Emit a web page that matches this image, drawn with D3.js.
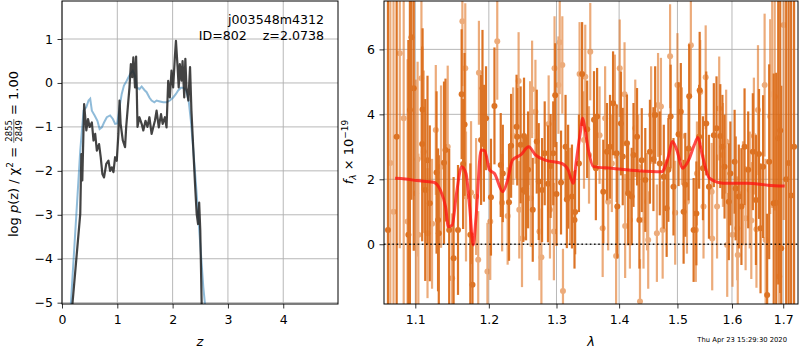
<!DOCTYPE html>
<html>
<head>
<meta charset="utf-8">
<script src="https://cdn.jsdelivr.net/npm/d3@7"></script>
<style>
  body { margin: 0; background: #fff; }
  svg { display: block; font-family: "DejaVu Sans", sans-serif; }
</style>
</head>
<body>
<div id="chart"></div>
<script>

// ---- p(z) panel data -------------------------------------------------------

var pzTicksX = [0, 1, 2, 3, 4];
var pzTicksY = [1, 0, -1, -2, -3, -4, -5];

// noisy chi2 based curve (dark line)
var pzZ = [0.15, 0.17, 0.33, 0.35, 0.367, 0.40, 0.44, 0.47, 0.50, 0.54, 0.57, 0.60, 0.63, 0.67, 0.70,
    0.73, 0.76, 0.80, 0.84, 0.87, 0.90, 0.93, 0.96, 0.99, 1.02, 1.04, 1.06, 1.10, 1.14, 1.16, 1.19,
    1.22, 1.245, 1.27, 1.29, 1.32, 1.34, 1.365, 1.40, 1.44, 1.47, 1.51, 1.545, 1.58, 1.62, 1.65, 1.68,
    1.71, 1.75, 1.79, 1.82, 1.86, 1.89, 1.92, 1.95, 1.98, 2.01, 2.04, 2.06, 2.09, 2.11, 2.13, 2.16,
    2.18, 2.21, 2.23, 2.25, 2.285, 2.315, 2.34, 2.375, 2.405, 2.435, 2.46, 2.48, 2.50, 2.525, 2.54];
var pzDark = [-5.6, -5.3, -2.98, -1.62, -2.22, -0.48, -1.08, -0.82, -1.0, -0.9, -1.31, -1.16, -1.54, -1.39, -1.69,
    -2.07, -2.15, -1.84, -1.77, -2.0, -1.92, -2.03, -1.69, -1.77, -1.16, -0.40, -0.93, -1.31, -1.46, -1.01, -0.55,
    -0.10, 0.43, 0.13, 0.58, -0.10, 0.60, -1.0, -0.78, -0.93, -1.08, -0.86, -1.0, -0.78, -1.16, -1.01, -0.86,
    -0.63, -1.01, -0.71, -0.93, -0.78, -1.01, 0.05, -0.33, 0.28, -0.10, 0.58, 0.96, 0.36, -0.10, 0.43, 0.05,
    0.50, -0.33, 0.55, -0.10, -0.40, 0.36, -0.63, -1.54, -2.30, -2.98, -3.21, -2.72, -3.36, -5.03, -5.6];

// smoothed prior curve (blue line)
var pzZSmooth = [0.14, 0.16, 0.26, 0.33, 0.39, 0.44, 0.48, 0.51, 0.54, 0.59, 0.64, 0.68, 0.72, 0.76, 0.81,
    0.87, 0.92, 0.96, 1.0, 1.04, 1.08, 1.12, 1.17, 1.23, 1.28, 1.32, 1.35, 1.40, 1.44, 1.49, 1.53, 1.58,
    1.62, 1.67, 1.71, 1.77, 1.83, 1.89, 1.95, 2.01, 2.06, 2.10, 2.15, 2.19, 2.24, 2.29, 2.33, 2.375,
    2.435, 2.495, 2.555, 2.585, 2.60];
var pzBlue = [-5.5, -5.03, -2.98, -1.54, -0.63, -0.55, -0.40, -0.36, -0.63, -0.74, -0.86, -1.05, -1.01, -0.9, -0.78,
    -0.74, -0.82, -0.93, -0.92, -0.55, -0.25, -0.06, 0.05, 0.2, 0.28, 0.17, -0.1, -0.14, -0.08, -0.16, -0.21, -0.33,
    -0.40, -0.44, -0.40, -0.42, -0.44, -0.44, -0.40, -0.33, -0.25, -0.17, -0.11, -0.11, -0.17, -0.40, -0.86, -1.54,
    -2.53, -3.59, -4.65, -5.03, -5.4];

// ---- spectrum panel data ---------------------------------------------------

var specTicksX = [1.1, 1.2, 1.3, 1.4, 1.5, 1.6, 1.7];
var specTicksY = [0, 2, 4, 6];

// first grism (dark)
var waveA = [1.065, 1.076, 1.091, 1.093, 1.095, 1.098, 1.109, 1.1095, 1.113, 1.116, 1.119, 1.128, 1.130, 1.131,
    1.138, 1.140, 1.145, 1.151, 1.157, 1.162, 1.164, 1.166, 1.174, 1.177, 1.189, 1.191, 1.193, 1.196, 1.203,
    1.208, 1.217, 1.220, 1.229, 1.232, 1.240, 1.241, 1.246, 1.250, 1.251, 1.254, 1.257, 1.264, 1.270, 1.273,
    1.278, 1.282, 1.287, 1.291, 1.295, 1.298, 1.300, 1.307, 1.314, 1.316, 1.318, 1.324, 1.328, 1.329, 1.335,
    1.340, 1.348, 1.359, 1.362, 1.364, 1.374, 1.380, 1.385, 1.390, 1.396, 1.397, 1.403, 1.406, 1.413, 1.415,
    1.421, 1.424, 1.430, 1.434, 1.438, 1.444, 1.452, 1.458, 1.461, 1.469, 1.476, 1.481, 1.484, 1.488, 1.493,
    1.502, 1.506, 1.511, 1.514, 1.520, 1.521, 1.529, 1.534, 1.539, 1.540, 1.546, 1.552, 1.557, 1.566, 1.571,
    1.578, 1.582, 1.586, 1.594, 1.597, 1.605, 1.607, 1.613, 1.618, 1.624, 1.631, 1.640, 1.646, 1.652, 1.655,
    1.660, 1.668, 1.672, 1.681, 1.686, 1.690, 1.694, 1.696, 1.706, 1.711, 1.716, 1.722];
var fluxA = [0.44, 3.31, 0.29, 4.13, 6.37, 4.8, 3.09, 4.15, 1.67, 2.59, 1.26, 2.21, 0.75, 0.34,
    2.51, 2.90, 0.44, -0.43, 0.44, 4.62, 2.47, 3.69, 0.29, -1.25, 3.21, 4.8, 3.11, 3.88, 1.45,
    4.26, 2.44, 2.18, 1.29, 3.03, 3.62, 3.31, 3.06, 1.67, 3.33, 1.72, 2.29, 1.06, 3.16, 1.93,
    1.67, 2.80, 1.86, 2.41, 2.80, 4.59, 1.55, 1.90, 3.0, 1.38, 2.08, 1.47, 0.75, 0.99, 2.49,
    5.24, 3.54, 3.83, 2.34, 3.93, 1.62, 2.85, 3.0, 4.34, 2.80, 1.16, 3.72, 2.70, 3.11, 1.57,
    1.47, 2.75, 3.31, 0.75, 2.59, 1.98, 2.85, 2.62, 3.98, 2.49, 2.08, 1.11, 2.29, 3.93, 1.77,
    3.39, 4.08, 1.0, 1.83, 2.95, 4.56, 0.44, 0.95, 3.31, 4.74, 2.34, 3.72, 1.77, 3.36, 3.57,
    3.33, 3.0, 2.39, 1.31, 2.18, 2.54, 1.72, 1.47, 1.16, 3.0, 2.29, 2.85, 1.36, 2.78, 0.49,
    2.39, -1.56, 2.54, 1.26, 1.28, 3.26, 3.50, -0.12, 2.0, 2.5, 1.5, 3.0];
var errA = [8, 8, 6, 6, 5, 5, 3, 2.5, 2.8, 2.6, 2.4, 2.5, 2.2, 2.4,
    2.5, 2.2, 2.5, 2.5, 2.0, 2.0, 2.0, 2.2, 2.2, 1.5, 2.0, 1.8, 1.8, 1.6, 1.8,
    1.8, 1.6, 1.5, 1.8, 1.6, 1.6, 1.5, 1.8, 1.6, 1.8, 1.6, 1.8, 1.6, 1.6, 1.8,
    1.6, 1.6, 1.8, 1.6, 1.6, 1.6, 1.6, 1.6, 1.6, 1.5, 1.6, 1.6, 1.5, 1.3, 1.5,
    1.6, 1.5, 1.5, 1.6, 1.5, 1.6, 1.5, 1.6, 1.6, 1.5, 1.6, 1.6, 1.5, 1.5, 1.6,
    1.5, 1.6, 1.5, 1.5, 1.6, 1.6, 1.6, 1.6, 1.5, 1.6, 1.6, 1.5, 1.6, 1.6, 1.5,
    1.6, 1.5, 1.6, 1.6, 1.6, 1.6, 1.6, 1.6, 1.6, 1.8, 1.6, 1.6, 1.6, 1.6, 1.6,
    1.6, 1.6, 1.6, 1.8, 1.6, 1.6, 1.6, 1.6, 1.8, 1.8, 1.8, 1.8, 2.0, 2.0, 2.0,
    2.2, 2.5, 3.0, 4.0, 4.0, 4.5, 5, 5, 8, 9, 9, 10];

// second grism (light)
var waveB = [1.068, 1.072, 1.080, 1.085, 1.090, 1.101, 1.103, 1.104, 1.108, 1.111, 1.116, 1.122, 1.127, 1.134,
    1.143, 1.149, 1.163, 1.167, 1.168, 1.175, 1.182, 1.185, 1.186, 1.198, 1.202, 1.212, 1.219, 1.227, 1.235,
    1.243, 1.244, 1.248, 1.260, 1.261, 1.263, 1.268, 1.274, 1.277, 1.288, 1.290, 1.296, 1.297, 1.303, 1.305,
    1.309, 1.310, 1.321, 1.336, 1.343, 1.345, 1.351, 1.353, 1.368, 1.373, 1.377, 1.382, 1.388, 1.393, 1.395,
    1.401, 1.409, 1.410, 1.418, 1.427, 1.432, 1.435, 1.441, 1.447, 1.449, 1.454, 1.464, 1.466, 1.471, 1.474,
    1.487, 1.496, 1.500, 1.508, 1.517, 1.524, 1.533, 1.535, 1.541, 1.547, 1.551, 1.562, 1.563, 1.572, 1.576,
    1.583, 1.589, 1.591, 1.601, 1.610, 1.611, 1.621, 1.626, 1.634, 1.637, 1.642, 1.647, 1.650, 1.663, 1.665,
    1.674, 1.678, 1.683, 1.692, 1.701];
var fluxB = [2.5, 1.0, 5.88, 3.88, 0.70, 1.57, 2.62, 0.29, 5.11, 2.85, 0.34, 0.63, 3.52, 2.39,
    3.0, -1.05, 6.87, 5.42, 1.47, 1.59, 1.47, -0.48, 5.28, -0.84, 0.70, 6.25, 1.28, 0.87, 3.33,
    5.03, 1.06, 0.18, 3.42, 1.42, 4.77, 4.08, 0.39, -0.40, 3.70, 1.06, 0.39, 5.42, 4.90, 6.22,
    5.52, -1.44, 1.47, 5.24, 3.21, 5.16, 2.75, 5.93, 3.36, 0.49, 3.88, 1.31, 2.49, 4.24, -0.36,
    5.42, 4.62, 0.56, 0.75, 3.57, 2.39, -1.76, 0.75, 1.31, 0.13, 3.98, 0.34, 4.29, 4.24, 0.44,
    5.79, 0.97, 4.90, 3.33, 1.31, 6.13, 0.44, 2.18, 4.69, 1.16, 5.14, 1.62, 0.18, 1.16, 4.18,
    2.75, 3.16, -0.02, 0.29, 0.49, -0.33, 1.57, 0.80, 1.67, 0.73, 3.33, 0.46, 4.13, 4.90, 0.13,
    3.93, 4.62, 4.54, -0.99, 6.75];
var errB = [7, 7, 6, 6, 5, 3.5, 3, 2.5, 2.5, 2.5, 2.0, 2.0, 2.0, 2.5,
    2.5, 2.0, 2.0, 2.0, 2.0, 2.2, 1.8, 1.5, 1.6, 1.5, 1.8, 1.8, 1.5, 1.5, 1.5,
    1.5, 1.5, 1.5, 1.6, 1.5, 1.5, 1.6, 1.5, 1.5, 1.5, 1.5, 1.5, 1.6, 1.5, 1.6,
    1.5, 1.3, 1.5, 1.6, 1.5, 1.6, 1.5, 1.5, 1.5, 1.5, 1.6, 1.5, 1.5, 1.6, 1.5,
    1.5, 1.6, 1.6, 1.5, 1.5, 1.6, 1.3, 1.5, 1.5, 1.5, 1.5, 1.5, 1.6, 1.5, 1.5,
    1.6, 1.6, 1.6, 1.5, 1.6, 1.6, 1.6, 1.6, 1.6, 1.6, 1.6, 1.5, 1.6, 1.6, 1.6,
    1.6, 1.6, 1.6, 1.6, 1.6, 1.6, 1.6, 1.6, 1.8, 1.8, 1.8, 1.8, 2.0, 2.2, 2.5,
    3.0, 3.5, 3.5, 5, 6];

// best-fit template
var modelWave = [1.074, 1.087, 1.102, 1.124, 1.133, 1.140, 1.144, 1.149, 1.155, 1.162, 1.168, 1.173, 1.178,
    1.182, 1.189, 1.194, 1.201, 1.208, 1.220, 1.227, 1.234, 1.246, 1.258, 1.268, 1.283, 1.308, 1.318, 1.326,
    1.331, 1.337, 1.341, 1.344, 1.350, 1.358, 1.387, 1.432, 1.472, 1.484, 1.491, 1.499, 1.509, 1.520, 1.530,
    1.537, 1.544, 1.558, 1.583, 1.629, 1.669, 1.703];
var modelFlux = [2.03, 2.01, 1.96, 1.91, 1.67, 1.16, 0.54, 0.59, 1.57, 2.39, 2.18, 1.16, -0.02,
    0.85, 2.9, 2.88, 2.29, 2.18, 1.62, 1.98, 2.59, 2.75, 3.0, 2.75, 2.59, 2.49, 2.29, 1.88,
    2.59, 3.42, 3.88, 3.62, 2.9, 2.39, 2.34, 2.26, 2.23, 2.70, 3.16, 2.9, 2.34, 2.59, 3.05,
    3.29, 2.80, 2.03, 1.88, 1.88, 1.82, 1.79];

var stamp = 'Thu Apr 23 15:29:30 2020';

// ---- layout ----------------------------------------------------------------

var W = 800, H = 350;
var left = {x0: 62, x1: 338, y0: 1, y1: 304};
var right = {x0: 384, x1: 798, y0: 1, y1: 304};
var gridColor = '#b0b0b0';
var tickFont = 12.5;
var labelFont = 13;

var svg = d3.select('#chart').append('svg')
    .attr('width', W)
    .attr('height', H)
    .attr('viewBox', '0 0 ' + W + ' ' + H);

var defs = svg.append('defs');
[['clipL', left], ['clipR', right]].forEach(function (c) {
    defs.append('clipPath').attr('id', c[0]).append('rect')
        .attr('x', c[1].x0).attr('y', c[1].y0)
        .attr('width', c[1].x1 - c[1].x0).attr('height', c[1].y1 - c[1].y0);
});

var zX = d3.scaleLinear().domain([0, 4.99]).range([left.x0, left.x1]);
var pY = d3.scaleLinear().domain([-5.03, 1.865]).range([left.y1, left.y0]);
var wX = d3.scaleLog().domain([1.06, 1.73]).range([right.x0, right.x1]);
var fY = d3.scaleLinear().domain([-1.84, 7.49]).range([right.y1, right.y0]);

function drawGrid(box, xs, ys, xTicks, yTicks) {
    var g = svg.append('g').attr('class', 'grid');
    g.selectAll('line.gx').data(xTicks).enter().append('line')
        .attr('x1', function (d) { return xs(d); }).attr('x2', function (d) { return xs(d); })
        .attr('y1', box.y0).attr('y2', box.y1)
        .attr('stroke', gridColor).attr('stroke-width', 0.9);
    g.selectAll('line.gy').data(yTicks).enter().append('line')
        .attr('y1', function (d) { return ys(d); }).attr('y2', function (d) { return ys(d); })
        .attr('x1', box.x0).attr('x2', box.x1)
        .attr('stroke', gridColor).attr('stroke-width', 0.9);
}

function drawAxes(box, xs, ys, xTicks, yTicks, xFmt, yFmt) {
    var ax = svg.append('g')
        .attr('transform', 'translate(0,' + box.y1 + ')')
        .call(d3.axisBottom(xs).tickValues(xTicks).tickFormat(xFmt).tickSize(4.5).tickPadding(7));
    var ay = svg.append('g')
        .attr('transform', 'translate(' + box.x0 + ',0)')
        .call(d3.axisLeft(ys).tickValues(yTicks).tickFormat(yFmt).tickSize(4.5).tickPadding(4.5));
    [ax, ay].forEach(function (a) {
        a.select('.domain').remove();
        a.selectAll('text').attr('font-size', tickFont).attr('font-family', 'DejaVu Sans').attr('fill', '#000');
        a.selectAll('line').attr('stroke', '#000').attr('stroke-width', 0.8);
    });
    svg.append('rect')
        .attr('x', box.x0).attr('y', box.y0)
        .attr('width', box.x1 - box.x0).attr('height', box.y1 - box.y0)
        .attr('fill', 'none').attr('stroke', '#000').attr('stroke-width', 1);
}

var minusFmt = function (d) { return d3.format('d')(d); };

// ---- left panel: p(z) ------------------------------------------------------

drawGrid(left, zX, pY, pzTicksX, pzTicksY);

var pzPlot = svg.append('g').attr('clip-path', 'url(#clipL)');

var blueLine = d3.line()
    .x(function (d, i) { return zX(pzZSmooth[i]); })
    .y(function (d) { return pY(d); });
pzPlot.append('path')
    .attr('d', blueLine(pzBlue))
    .attr('fill', 'none')
    .attr('stroke', '#1f77b4')
    .attr('stroke-opacity', 0.5)
    .attr('stroke-width', 2);

var darkLine = d3.line()
    .x(function (d, i) { return zX(pzZ[i]); })
    .y(function (d) { return pY(d); });
pzPlot.append('path')
    .attr('d', darkLine(pzDark))
    .attr('fill', 'none')
    .attr('stroke', '#222')
    .attr('stroke-opacity', 0.85)
    .attr('stroke-width', 2.2)
    .attr('stroke-linejoin', 'round');

drawAxes(left, zX, pY, pzTicksX, pzTicksY, minusFmt, minusFmt);

svg.append('text')
    .attr('x', 324).attr('y', 24)
    .attr('text-anchor', 'end').attr('font-size', 12.6)
    .text('j003548m4312');
svg.append('text')
    .attr('x', 324).attr('y', 39.5)
    .attr('text-anchor', 'end').attr('font-size', 12.6)
    .attr('xml:space', 'preserve')
    .text('ID=802    z=2.0738');

svg.append('text')
    .attr('x', (left.x0 + left.x1) / 2).attr('y', 346)
    .attr('text-anchor', 'middle').attr('font-size', labelFont)
    .attr('font-style', 'italic')
    .text('z');

// y label with a stacked fraction
var yl = svg.append('g').attr('transform', 'translate(18,154) rotate(-90)');
var ylInner = yl.append('g');
var t1 = ylInner.append('text').attr('font-size', labelFont).attr('xml:space', 'preserve');
t1.append('tspan').text('log ');
t1.append('tspan').attr('font-style', 'italic').text('p');
t1.append('tspan').text('(z) / χ');
t1.append('tspan').attr('font-size', 9).attr('dy', -5).text('2');
t1.append('tspan').attr('dy', 5).text(' = ');
var w1 = t1.node().getComputedTextLength();
var num = ylInner.append('text').attr('font-size', 8.5).attr('text-anchor', 'middle').text('2855');
var fw = num.node().getComputedTextLength() + 2;
num.attr('x', w1 + fw / 2).attr('y', -6);
ylInner.append('text').attr('font-size', 8.5).attr('text-anchor', 'middle')
    .attr('x', w1 + fw / 2).attr('y', 4).text('2849');
ylInner.append('line')
    .attr('x1', w1).attr('x2', w1 + fw)
    .attr('y1', -4.2).attr('y2', -4.2)
    .attr('stroke', '#000').attr('stroke-width', 0.6);
var t2 = ylInner.append('text').attr('font-size', labelFont).attr('xml:space', 'preserve')
    .attr('x', w1 + fw).text(' = 1.00');
var wAll = w1 + fw + t2.node().getComputedTextLength();
ylInner.attr('transform', 'translate(' + (-wAll / 2) + ',0)');

// ---- right panel: spectrum -------------------------------------------------

drawGrid(right, wX, fY, specTicksX, specTicksY);

var specPlot = svg.append('g').attr('clip-path', 'url(#clipR)');

function drawSpec(waves, flux, err, color, opacity) {
    var rows = waves.map(function (w, i) { return {w: w, f: flux[i], e: err[i]}; });
    var g = specPlot.append('g').attr('opacity', opacity);
    g.selectAll('line').data(rows).enter().append('line')
        .attr('x1', function (d) { return wX(d.w); })
        .attr('x2', function (d) { return wX(d.w); })
        .attr('y1', function (d) { return fY(d.f - d.e); })
        .attr('y2', function (d) { return fY(d.f + d.e); })
        .attr('stroke', color)
        .attr('stroke-width', 2.2);
    g.selectAll('circle').data(rows).enter().append('circle')
        .attr('cx', function (d) { return wX(d.w); })
        .attr('cy', function (d) { return fY(d.f); })
        .attr('r', 3)
        .attr('fill', color);
}

drawSpec(waveA, fluxA, errA, '#d9650f', 0.9);
drawSpec(waveB, fluxB, errB, '#e0701c', 0.58);

specPlot.append('line')
    .attr('x1', right.x0).attr('x2', right.x1)
    .attr('y1', fY(0)).attr('y2', fY(0))
    .attr('stroke', '#000').attr('stroke-opacity', 0.85)
    .attr('stroke-width', 1.6)
    .attr('stroke-dasharray', '1.6,2.6');

var modelLine = d3.line()
    .x(function (d, i) { return wX(modelWave[i]); })
    .y(function (d) { return fY(d); })
    .curve(d3.curveMonotoneX);
specPlot.append('path')
    .attr('d', modelLine(modelFlux))
    .attr('fill', 'none')
    .attr('stroke', '#ff1010')
    .attr('stroke-opacity', 0.75)
    .attr('stroke-width', 3);

drawAxes(right, wX, fY, specTicksX, specTicksY, d3.format('.1f'), minusFmt);

svg.append('text')
    .attr('x', 591).attr('y', 346)
    .attr('text-anchor', 'middle').attr('font-size', labelFont)
    .attr('font-style', 'italic')
    .text('λ');

var fl = svg.append('text')
    .attr('transform', 'translate(353,152) rotate(-90)')
    .attr('text-anchor', 'middle').attr('font-size', labelFont);
fl.append('tspan').attr('font-style', 'italic').text('f');
fl.append('tspan').attr('font-style', 'italic').attr('font-size', 9).attr('dy', 3).text('λ');
fl.append('tspan').attr('dy', -3).text(' × 10');
fl.append('tspan').attr('font-size', 9).attr('dy', -5).text('−19');

svg.append('text')
    .attr('x', 787).attr('y', 342)
    .attr('text-anchor', 'end').attr('font-size', 6.8)
    .text(stamp);

</script>
</body>
</html>
